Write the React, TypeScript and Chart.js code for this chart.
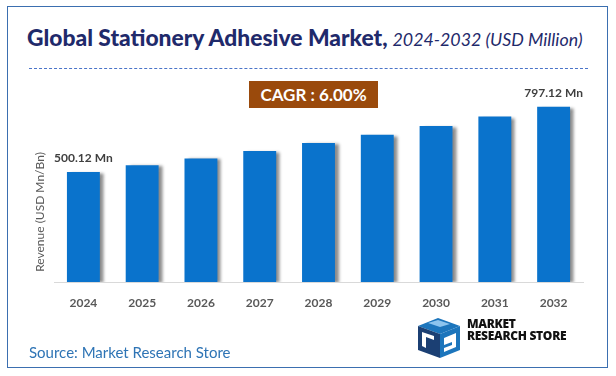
import React, { useEffect, useRef } from "react";
import { Chart, registerables } from "chart.js";

Chart.register(...registerables);

const years = ["2024", "2025", "2026", "2027", "2028", "2029", "2030", "2031", "2032"];
const revenue = [500.12, 530.13, 561.93, 595.65, 631.39, 669.27, 709.43, 752.0, 797.12];
const valueLabels = ["500.12 Mn", "", "", "", "", "", "", "", "797.12 Mn"];
const yAxisTitle = "Revenue (USD Mn/Bn)";
const cagrText = "CAGR : 6.00%";

const FONT = "Lato, 'Open Sans', sans-serif";

const shadowPlugin = {
  id: "barShadow",
  beforeDatasetsDraw(chart: any) {
    const ctx = chart.ctx;
    ctx.save();
    ctx.shadowColor = "rgba(0,0,0,0.45)";
    ctx.shadowOffsetX = 4;
    ctx.shadowOffsetY = 1;
    ctx.shadowBlur = 3;
  },
  afterDatasetsDraw(chart: any) {
    chart.ctx.restore();
  },
};

const labelPlugin = {
  id: "valueLabels",
  afterDraw(chart: any) {
    const ctx = chart.ctx;
    const meta = chart.getDatasetMeta(0);
    ctx.save();
    ctx.font = `bold 12px ${FONT}`;
    ctx.fillStyle = "#404040";
    ctx.textAlign = "center";
    ctx.textBaseline = "middle";
    meta.data.forEach((bar: any, i: number) => {
      const t = valueLabels[i];
      if (t) ctx.fillText(t, bar.x, bar.y - 14);
    });
    ctx.translate(40, 212);
    ctx.rotate(-Math.PI / 2);
    ctx.font = `12px ${FONT}`;
    ctx.fillStyle = "#595959";
    ctx.fillText(yAxisTitle, 0, 0);
    ctx.restore();
  },
};

export default function App() {
  const ref = useRef<HTMLCanvasElement>(null);
  useEffect(() => {
    if (!ref.current) return;
    const chart = new Chart(ref.current, {
      type: "bar",
      data: {
        labels: years,
        datasets: [
          {
            data: revenue,
            backgroundColor: "#0a73cc",
            borderWidth: 0,
            categoryPercentage: 1,
            barPercentage: 0.56,
          },
        ],
      },
      options: {
        animation: false,
        responsive: false,
        layout: { padding: { left: 30, top: 84, right: 33, bottom: 66 } },
        plugins: { legend: { display: false }, tooltip: { enabled: false } },
        scales: {
          x: {
            grid: { display: false },
            border: { display: true, color: "#d9d9d9", width: 1 },
            ticks: { color: "#595959", font: { family: FONT, size: 12, weight: "bold" }, padding: 6 },
            afterFit: (s: any) => {
              s.height = 28;
            },
          },
          y: {
            min: 0,
            max: 900,
            display: true,
            grid: { display: false },
            border: { display: false },
            ticks: { display: false },
            afterFit: (s: any) => {
              s.width = 24;
            },
          },
        },
      },
      plugins: [shadowPlugin, labelPlugin],
    });
    return () => chart.destroy();
  }, []);

  return (
    <div style={{ position: "fixed", left: 0, top: 0, width: 616, height: 376, background: "#fff", overflow: "hidden", fontFamily: FONT }}>
      <div style={{ position: "absolute", left: 7, top: 6, width: 599, height: 360, border: "1.5px solid #3b6fb0" }} />
      <div style={{ position: "absolute", left: 27, top: 22, whiteSpace: "nowrap", color: "#1f2a6b", lineHeight: "30px" }}>
        <span style={{ fontWeight: 900, fontSize: 22.8 }}>Global Stationery Adhesive Market,</span>
        <span style={{ fontStyle: "italic", fontSize: 17.8, marginLeft: 5 }}>2024-2032 (USD Million)</span>
      </div>
      <div style={{ position: "absolute", left: 29, top: 68, width: 559, borderTop: "1px dashed #4a74c9" }} />
      <canvas ref={ref} width={616} height={376} style={{ position: "absolute", left: 0, top: 0 }} />
      <div style={{ position: "absolute", left: 249, top: 81, width: 129, height: 27, background: "#9a4a0c", color: "#fff", fontWeight: 700, fontSize: 17, lineHeight: "27px", textAlign: "center" }}>
        {cagrText}
      </div>
      <div style={{ position: "absolute", left: 29, top: 341, fontSize: 15, color: "#2e74b5", whiteSpace: "nowrap", lineHeight: "22px" }}>
        Source: Market Research Store
      </div>
      <svg style={{ position: "absolute", left: 414, top: 316 }} width={50} height={44} viewBox="0 0 50 44">
        <polygon points="4,10 24,2 46,10 26,18" fill="#1c75bc" />
        <polygon points="4,10 26,18 26,42 4,34" fill="#1b3f73" />
        <polygon points="26,18 46,10 46,34 26,42" fill="#1c75bc" />
        <path d="M8,16 L20,20 L20,24 L12,21 L12,32 L8,30 Z" fill="#fff" />
        <path d="M30,22 L42,17 L42,21 L34,24 L42,21 L42,31 L30,36 L30,32 L38,29 L38,26 L30,29 Z" fill="#fff" />
        <path d="M14,7 L24,4 L36,8 L26,11 Z" fill="#8cc4ee" />
      </svg>
      <div style={{ position: "absolute", left: 467, top: 318, fontSize: 12, fontWeight: 900, color: "#111", lineHeight: "12px", fontFamily: "'Open Sans', sans-serif", letterSpacing: -0.3, whiteSpace: "nowrap" }}>
        MARKET<br />RESEARCH STORE
      </div>
    </div>
  );
}
